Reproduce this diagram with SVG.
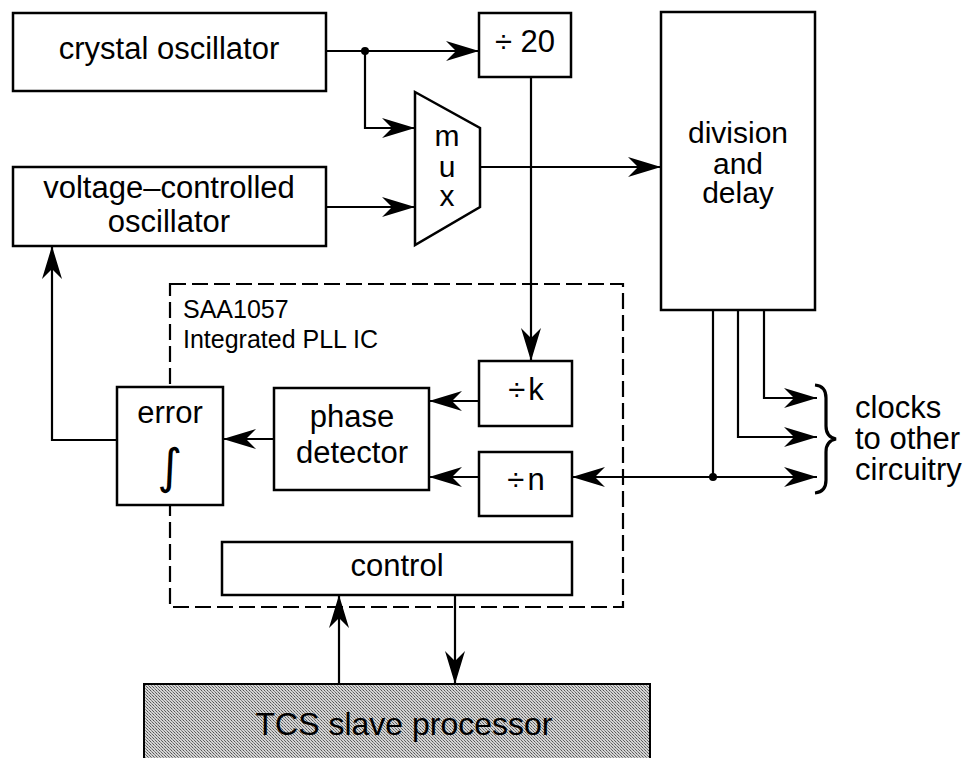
<svg xmlns="http://www.w3.org/2000/svg" width="971" height="758" viewBox="0 0 971 758">
<style>
.box{fill:#fff;stroke:#000;stroke-width:2.5}
.ln{fill:none;stroke:#000;stroke-width:2.2}
.arr{marker-end:url(#ah)}
.dash{fill:none;stroke:#000;stroke-width:2.2;stroke-dasharray:16 6}
text{font-family:"Liberation Sans",Arial,sans-serif;font-size:31px;fill:#000}
.c{text-anchor:middle}
.sm{font-size:25px}
.tight{font-size:30px}
</style>
<defs>
<marker id="ah" markerUnits="userSpaceOnUse" markerWidth="34" markerHeight="22" viewBox="0 0 34 22" refX="33" refY="11" orient="auto">
<path d="M33,11 L0,1 L10,11 L0,21 Z" fill="#000"/>
</marker>
<pattern id="dots" width="3" height="3" patternUnits="userSpaceOnUse">
<rect width="3" height="3" fill="#d4d4d4"/>
<rect width="1" height="1" fill="#555"/>
<rect x="2" y="2" width="1" height="1" fill="#666"/>
<rect x="1" y="1" width="1" height="1" fill="#888"/>
</pattern>
</defs>

<g id="pll-boundary">
<rect class="dash" x="170" y="284" width="453" height="323"/>
<text class="sm" x="183" y="318">SAA1057<tspan x="183" y="348">Integrated PLL IC</tspan></text>
</g>

<g id="connectors">
<path class="ln arr" d="M326,51 L479,51"/>
<path class="ln arr" d="M365,51 L365,128 L415,128"/>
<circle cx="365" cy="51" r="4" fill="#000"/>
<path class="ln arr" d="M326,207 L415,207"/>
<path class="ln arr" d="M480,167 L661,167"/>
<path class="ln arr" d="M531,77 L531,361"/>
<path class="ln arr" d="M479,401 L429,401"/>
<path class="ln arr" d="M479,477 L429,477"/>
<path class="ln arr" d="M274,439 L223,439"/>
<path class="ln arr" d="M117,440 L52,440 L52,246"/>
<path class="ln arr" d="M764,310 L764,398 L817,398"/>
<path class="ln arr" d="M738,310 L738,437 L817,437"/>
<path class="ln arr" d="M713,310 L713,477 L817,477"/>
<path class="ln arr" d="M713,477 L572,477"/>
<circle cx="713" cy="477" r="4" fill="#000"/>
<path class="ln arr" d="M339,684 L339,595"/>
<path class="ln arr" d="M455,595 L455,684"/>
</g>

<g id="crystal">
<rect class="box" x="13" y="13" width="313" height="78"/>
<text class="c" x="169" y="59">crystal oscillator</text>
</g>

<g id="vco">
<rect class="box" x="13" y="167" width="313" height="79"/>
<text class="c" x="169" y="198">voltage–controlled<tspan x="169" y="232">oscillator</tspan></text>
</g>

<g id="div20">
<rect class="box" x="479" y="13" width="92" height="64"/>
<text class="c" x="525" y="52">÷ 20</text>
</g>

<g id="mux">
<polygon class="box" points="415,92 480,128 480,207 415,245"/>
<text class="c tight" x="447" y="146">m<tspan x="447" y="177">u</tspan><tspan x="447" y="206">x</tspan></text>
</g>

<g id="division">
<rect class="box" x="661" y="12" width="154" height="298"/>
<text class="c tight" x="738" y="143">division<tspan x="738" y="174">and</tspan><tspan x="738" y="203">delay</tspan></text>
</g>

<g id="divk">
<rect class="box" x="479" y="361" width="93" height="65"/>
<text class="c" x="526" y="400">÷<tspan dx="3">k</tspan></text>
</g>

<g id="divn">
<rect class="box" x="479" y="452" width="93" height="64"/>
<text class="c" x="526" y="490">÷<tspan dx="3">n</tspan></text>
</g>

<g id="phase-detector">
<rect class="box" x="274" y="388" width="155" height="102"/>
<text class="c" x="352" y="427">phase<tspan x="352" y="463">detector</tspan></text>
</g>

<g id="error">
<rect class="box" x="117" y="387" width="106" height="118"/>
<text class="c" x="170" y="423">error</text>
<text class="c" x="170" y="483" style="font-family:'DejaVu Sans',sans-serif;font-size:48px">∫</text>
</g>

<g id="control">
<rect class="box" x="222" y="542" width="350" height="53"/>
<text class="c" x="397" y="576">control</text>
</g>

<g id="tcs">
<rect x="144" y="684" width="506" height="80" fill="url(#dots)" stroke="#000" stroke-width="2"/>
<text class="c" x="404" y="735" style="font-size:32px">TCS slave processor</text>
</g>

<g id="clocks">
<path d="M815,385 Q826,386 826,398 L826,426 Q826,437 836,439 Q826,441 826,452 L826,480 Q826,492 815,493" fill="none" stroke="#000" stroke-width="3.2"/>
<text x="855" y="418">clocks<tspan x="855" y="449">to other</tspan><tspan x="855" y="480">circuitry</tspan></text>
</g>
</svg>
